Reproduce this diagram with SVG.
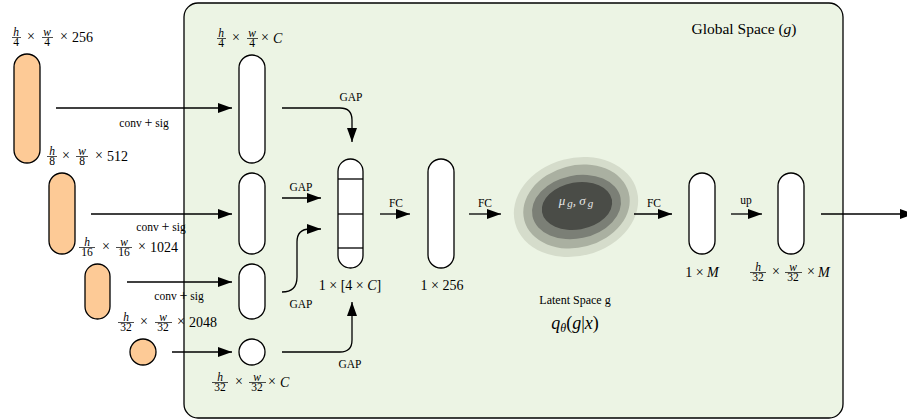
<svg xmlns="http://www.w3.org/2000/svg" width="907" height="420" viewBox="0 0 907 420">
<defs>
<marker id="ah" markerUnits="userSpaceOnUse" markerWidth="14" markerHeight="10" refX="14" refY="5" orient="auto">
<path d="M0,0 L14,5 L0,10 z" fill="#000"/>
</marker>
<style>
.t{font-family:"Liberation Serif","DejaVu Serif",serif;fill:#000}
.i{font-style:italic}
.s{font-size:11.5px}
.f{font-size:11.5px;text-anchor:middle}
.m{font-size:14px}
.x{font-size:14px;text-anchor:middle}
.frac{stroke:#000;stroke-width:0.7}
.pill{stroke:#000;stroke-width:1.3;fill:#fff}
.or{stroke:#000;stroke-width:1.3;fill:#fdca96}
.c{fill:none;stroke:#000;stroke-width:1.3;marker-end:url(#ah)}
</style>
</defs>
<rect width="907" height="420" fill="#fff"/>
<g id="global-space">
<rect x="184" y="3" width="659" height="415" rx="14" fill="#ecf4e4" stroke="#000" stroke-width="1.3"/>
<text class="t" x="744" y="34" font-size="15.5" text-anchor="middle">Global Space (<tspan class="i">g</tspan>)</text>
</g>

<!-- orange feature maps -->
<g id="f1"><rect class="or" x="14" y="54" width="26" height="109" rx="13"/>
<g class="t"><text x="16" y="35.5" class="f i">h</text><text x="16" y="46" class="f">4</text><text x="47" y="35.5" class="f i">w</text><text x="47" y="46" class="f">4</text>
<text class="x" x="31" y="41">×</text><text class="x" x="64" y="41">×</text><text class="m" x="72" y="41.5">256</text></g>
<line class="frac" x1="12" y1="37.5" x2="21" y2="37.5"/><line class="frac" x1="42" y1="37.5" x2="53" y2="37.5"/></g>

<g id="f2"><rect class="or" x="49" y="173" width="26" height="81" rx="13"/>
<g class="t"><text x="52" y="154.5" class="f i">h</text><text x="52" y="165" class="f">8</text><text x="82" y="154.5" class="f i">w</text><text x="82" y="165" class="f">8</text>
<text class="x" x="66" y="160">×</text><text class="x" x="99" y="160">×</text><text class="m" x="107" y="160.5">512</text></g>
<line class="frac" x1="47" y1="156.5" x2="57" y2="156.5"/><line class="frac" x1="76" y1="156.5" x2="88" y2="156.5"/></g>

<g id="f3"><rect class="or" x="85" y="264" width="25" height="55" rx="12.5"/>
<g class="t"><text x="87" y="245.5" class="f i">h</text><text x="87" y="256" class="f">16</text><text x="124" y="245.5" class="f i">w</text><text x="124" y="256" class="f">16</text>
<text class="x" x="106" y="251">×</text><text class="x" x="142" y="251">×</text><text class="m" x="150" y="251.5">1024</text></g>
<line class="frac" x1="79" y1="247.5" x2="95" y2="247.5"/><line class="frac" x1="116" y1="247.5" x2="132" y2="247.5"/></g>

<g id="f4"><circle class="or" cx="143" cy="352" r="13"/>
<g class="t"><text x="126" y="320.5" class="f i">h</text><text x="126" y="331" class="f">32</text><text x="163" y="320.5" class="f i">w</text><text x="163" y="331" class="f">32</text>
<text class="x" x="144" y="326">×</text><text class="x" x="181" y="326">×</text><text class="m" x="189" y="326.5">2048</text></g>
<line class="frac" x1="118" y1="322.5" x2="134" y2="322.5"/><line class="frac" x1="155" y1="322.5" x2="172" y2="322.5"/></g>

<!-- white feature maps -->
<g id="w1"><rect class="pill" x="239" y="55" width="26" height="108" rx="13"/>
<g class="t"><text x="221" y="36.5" class="f i">h</text><text x="221" y="47" class="f">4</text><text x="252" y="36.5" class="f i">w</text><text x="252" y="47" class="f">4</text>
<text class="x" x="236" y="42">×</text><text class="x" x="265" y="42">×</text><text class="m i" x="273" y="42.5">C</text></g>
<line class="frac" x1="217" y1="38.5" x2="226" y2="38.5"/><line class="frac" x1="247" y1="38.5" x2="258" y2="38.5"/></g>

<g id="w2"><rect class="pill" x="239" y="173" width="26" height="81" rx="13"/></g>
<g id="w3"><rect class="pill" x="239" y="264" width="26" height="55" rx="13"/></g>
<g id="w4"><circle class="pill" cx="252" cy="352" r="13"/>
<g class="t"><text x="220" y="380.5" class="f i">h</text><text x="220" y="391" class="f">32</text><text x="257" y="380.5" class="f i">w</text><text x="257" y="391" class="f">32</text>
<text class="x" x="239" y="386">×</text><text class="x" x="272" y="386">×</text><text class="m i" x="280" y="386.5">C</text></g>
<line class="frac" x1="212" y1="382.5" x2="228" y2="382.5"/><line class="frac" x1="249" y1="382.5" x2="266" y2="382.5"/></g>

<g id="concat"><rect class="pill" x="338" y="159" width="25" height="109" rx="12.5"/>
<g stroke="#000" stroke-width="1.3"><line x1="338" y1="179" x2="363" y2="179"/><line x1="338" y1="214" x2="363" y2="214"/><line x1="338" y1="248" x2="363" y2="248"/></g>
<text class="t m" x="350" y="290" text-anchor="middle">1 × [4 × <tspan class="i">C</tspan>]</text></g>

<g id="fc256"><rect class="pill" x="428" y="159" width="26" height="109" rx="13"/>
<text class="t m" x="442" y="290" text-anchor="middle">1 × 256</text></g>

<g id="latent">
<ellipse cx="576" cy="207" rx="63" ry="49" transform="rotate(-15 576 207)" fill="#d5dccb"/>
<ellipse cx="576.5" cy="206.5" rx="54" ry="41" transform="rotate(-15 576.5 206.5)" fill="#aab0a1"/>
<ellipse cx="576.5" cy="207" rx="45" ry="31.5" transform="rotate(-12 576.5 207)" fill="#7b7f76"/>
<ellipse cx="577" cy="206" rx="35.5" ry="23.5" transform="rotate(-10 577 206)" fill="#4a4c47"/>
<text class="t i" x="576" y="205" font-size="13" style="fill:#e6e6e6" text-anchor="middle">μ<tspan font-size="11" dx="2" dy="2">g</tspan><tspan dy="-2">, σ</tspan><tspan font-size="11" dx="2" dy="2">g</tspan></text>
<text class="t" x="575" y="304" font-size="12" text-anchor="middle">Latent Space g</text>
<text class="t" x="575" y="329" font-size="18" text-anchor="middle"><tspan class="i">q</tspan><tspan class="i" font-size="12" dy="3">θ</tspan><tspan dy="-3">(</tspan><tspan class="i">g</tspan>|<tspan class="i">x</tspan>)</text>
</g>

<g id="m1"><rect class="pill" x="689" y="173" width="26" height="81" rx="13"/>
<text class="t m" x="702" y="277" text-anchor="middle">1 × <tspan class="i">M</tspan></text></g>

<g id="m2"><rect class="pill" x="778" y="173" width="26" height="81" rx="13"/>
<g class="t"><text x="758" y="270.5" class="f i">h</text><text x="758" y="281" class="f">32</text><text x="793" y="270.5" class="f i">w</text><text x="793" y="281" class="f">32</text>
<text class="x" x="776" y="276">×</text><text class="x" x="811" y="276">×</text><text class="m i" x="818" y="276.5">M</text></g>
<line class="frac" x1="750" y1="272.5" x2="766" y2="272.5"/><line class="frac" x1="785" y1="272.5" x2="802" y2="272.5"/></g>

<g id="connectors">
<path class="c" d="M56,108 H232"/>
<path class="c" d="M91,214 H232"/>
<path class="c" d="M127,282 H232"/>
<path class="c" d="M172,352 H232"/>
<path class="c" d="M282,108 H340 Q352,108 352,120 V142"/>
<path class="c" d="M282,198 H321"/>
<path class="c" d="M282,292 Q297,292 297,277 V242 Q297,229 310,229 H321"/>
<path class="c" d="M282,352 H340 Q352,352 352,340 V302"/>
<path class="c" d="M380,214 H410"/>
<path class="c" d="M469,214 H501"/>
<path class="c" d="M634,214 H672"/>
<path class="c" d="M731,214 H762"/>
<path class="c" d="M821,214 H914"/>
<g class="t s" text-anchor="middle">
<text x="144" y="127">conv <tspan font-size="14">+</tspan> sig</text>
<text x="161" y="231">conv <tspan font-size="14">+</tspan> sig</text>
<text x="179" y="300">conv <tspan font-size="14">+</tspan> sig</text>
<text x="351" y="101">GAP</text>
<text x="301" y="191">GAP</text>
<text x="301" y="308">GAP</text>
<text x="350" y="368">GAP</text>
<text x="396" y="207">FC</text>
<text x="485" y="207">FC</text>
<text x="654" y="207">FC</text>
<text x="746" y="204">up</text>
</g>
</g>
</svg>
